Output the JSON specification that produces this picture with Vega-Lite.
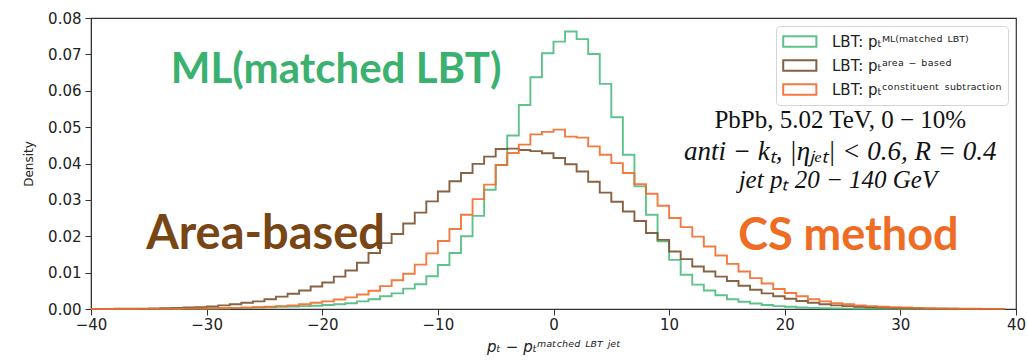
{
  "$schema": "https://vega.github.io/schema/vega-lite/v6.json",
  "width": 925,
  "height": 291,
  "autosize": {"type": "none"},
  "padding": {"left": 91, "top": 18, "right": 12, "bottom": 53},
  "background": "white",
  "config": {
    "view": {"stroke": "#333333", "strokeWidth": 1.2},
    "axis": {
      "grid": false,
      "domainColor": "#333333",
      "tickColor": "#333333",
      "tickSize": 6,
      "labelFont": "DejaVu Sans",
      "labelFontSize": 15,
      "labelColor": "#222222",
      "labelOverlap": false,
      "labelFlush": false,
      "titleColor": "#222222",
      "titleFontWeight": "normal"
    }
  },
  "data": {
    "values": [
      {"series": "ML", "x": -40, "density": 0},
      {"series": "ML", "x": -39, "density": 0},
      {"series": "ML", "x": -38, "density": 0.00001},
      {"series": "ML", "x": -37, "density": 0.00002},
      {"series": "ML", "x": -36, "density": 0.00003},
      {"series": "ML", "x": -35, "density": 0.00004},
      {"series": "ML", "x": -34, "density": 0.00005},
      {"series": "ML", "x": -33, "density": 0.00007},
      {"series": "ML", "x": -32, "density": 0.0001},
      {"series": "ML", "x": -31, "density": 0.00012},
      {"series": "ML", "x": -30, "density": 0.00015},
      {"series": "ML", "x": -29, "density": 0.0002},
      {"series": "ML", "x": -28, "density": 0.00025},
      {"series": "ML", "x": -27, "density": 0.0003},
      {"series": "ML", "x": -26, "density": 0.0004},
      {"series": "ML", "x": -25, "density": 0.0005},
      {"series": "ML", "x": -24, "density": 0.0006},
      {"series": "ML", "x": -23, "density": 0.0007},
      {"series": "ML", "x": -22, "density": 0.0008},
      {"series": "ML", "x": -21, "density": 0.0009},
      {"series": "ML", "x": -20, "density": 0.0011},
      {"series": "ML", "x": -19, "density": 0.0013},
      {"series": "ML", "x": -18, "density": 0.0016},
      {"series": "ML", "x": -17, "density": 0.0021},
      {"series": "ML", "x": -16, "density": 0.0027},
      {"series": "ML", "x": -15, "density": 0.0035},
      {"series": "ML", "x": -14, "density": 0.0043},
      {"series": "ML", "x": -13, "density": 0.0056},
      {"series": "ML", "x": -12, "density": 0.0068},
      {"series": "ML", "x": -11, "density": 0.009},
      {"series": "ML", "x": -10, "density": 0.0121},
      {"series": "ML", "x": -9, "density": 0.0154},
      {"series": "ML", "x": -8, "density": 0.02},
      {"series": "ML", "x": -7, "density": 0.0256},
      {"series": "ML", "x": -6, "density": 0.0328},
      {"series": "ML", "x": -5, "density": 0.0396},
      {"series": "ML", "x": -4, "density": 0.0477},
      {"series": "ML", "x": -3, "density": 0.0561},
      {"series": "ML", "x": -2, "density": 0.0637},
      {"series": "ML", "x": -1, "density": 0.0703},
      {"series": "ML", "x": 0, "density": 0.0735},
      {"series": "ML", "x": 1, "density": 0.0763},
      {"series": "ML", "x": 2, "density": 0.0742},
      {"series": "ML", "x": 3, "density": 0.0701},
      {"series": "ML", "x": 4, "density": 0.0619},
      {"series": "ML", "x": 5, "density": 0.0527},
      {"series": "ML", "x": 6, "density": 0.0424},
      {"series": "ML", "x": 7, "density": 0.0337},
      {"series": "ML", "x": 8, "density": 0.0259},
      {"series": "ML", "x": 9, "density": 0.0186},
      {"series": "ML", "x": 10, "density": 0.0135},
      {"series": "ML", "x": 11, "density": 0.0094},
      {"series": "ML", "x": 12, "density": 0.0067},
      {"series": "ML", "x": 13, "density": 0.0051},
      {"series": "ML", "x": 14, "density": 0.0038},
      {"series": "ML", "x": 15, "density": 0.0027},
      {"series": "ML", "x": 16, "density": 0.002},
      {"series": "ML", "x": 17, "density": 0.0015},
      {"series": "ML", "x": 18, "density": 0.0011},
      {"series": "ML", "x": 19, "density": 0.0008},
      {"series": "ML", "x": 20, "density": 0.0006},
      {"series": "ML", "x": 21, "density": 0.0004},
      {"series": "ML", "x": 22, "density": 0.0003},
      {"series": "ML", "x": 23, "density": 0.0002},
      {"series": "ML", "x": 24, "density": 0.00015},
      {"series": "ML", "x": 25, "density": 0.0001},
      {"series": "ML", "x": 26, "density": 0.00008},
      {"series": "ML", "x": 27, "density": 0.00006},
      {"series": "ML", "x": 28, "density": 0.00004},
      {"series": "ML", "x": 29, "density": 0.00003},
      {"series": "ML", "x": 30, "density": 0.00002},
      {"series": "ML", "x": 31, "density": 0.00001},
      {"series": "ML", "x": 32, "density": 0},
      {"series": "ML", "x": 33, "density": 0},
      {"series": "ML", "x": 34, "density": 0},
      {"series": "ML", "x": 35, "density": 0},
      {"series": "ML", "x": 36, "density": 0},
      {"series": "ML", "x": 37, "density": 0},
      {"series": "ML", "x": 38, "density": 0},
      {"series": "ML", "x": 39, "density": 0},

      {"series": "area", "x": -40, "density": 0.00002},
      {"series": "area", "x": -39, "density": 0.00003},
      {"series": "area", "x": -38, "density": 0.00005},
      {"series": "area", "x": -37, "density": 0.00007},
      {"series": "area", "x": -36, "density": 0.0001},
      {"series": "area", "x": -35, "density": 0.00015},
      {"series": "area", "x": -34, "density": 0.0002},
      {"series": "area", "x": -33, "density": 0.0003},
      {"series": "area", "x": -32, "density": 0.0004},
      {"series": "area", "x": -31, "density": 0.0005},
      {"series": "area", "x": -30, "density": 0.0007},
      {"series": "area", "x": -29, "density": 0.001},
      {"series": "area", "x": -28, "density": 0.0013},
      {"series": "area", "x": -27, "density": 0.0017},
      {"series": "area", "x": -26, "density": 0.0021},
      {"series": "area", "x": -25, "density": 0.0027},
      {"series": "area", "x": -24, "density": 0.0034},
      {"series": "area", "x": -23, "density": 0.0042},
      {"series": "area", "x": -22, "density": 0.0051},
      {"series": "area", "x": -21, "density": 0.0062},
      {"series": "area", "x": -20, "density": 0.0073},
      {"series": "area", "x": -19, "density": 0.0089},
      {"series": "area", "x": -18, "density": 0.0106},
      {"series": "area", "x": -17, "density": 0.0127},
      {"series": "area", "x": -16, "density": 0.0154},
      {"series": "area", "x": -15, "density": 0.0181},
      {"series": "area", "x": -14, "density": 0.0206},
      {"series": "area", "x": -13, "density": 0.0235},
      {"series": "area", "x": -12, "density": 0.0265},
      {"series": "area", "x": -11, "density": 0.0296},
      {"series": "area", "x": -10, "density": 0.0323},
      {"series": "area", "x": -9, "density": 0.0351},
      {"series": "area", "x": -8, "density": 0.0374},
      {"series": "area", "x": -7, "density": 0.0399},
      {"series": "area", "x": -6, "density": 0.0419},
      {"series": "area", "x": -5, "density": 0.044},
      {"series": "area", "x": -4, "density": 0.0441},
      {"series": "area", "x": -3, "density": 0.0437},
      {"series": "area", "x": -2, "density": 0.0434},
      {"series": "area", "x": -1, "density": 0.0428},
      {"series": "area", "x": 0, "density": 0.0415},
      {"series": "area", "x": 1, "density": 0.0398},
      {"series": "area", "x": 2, "density": 0.0378},
      {"series": "area", "x": 3, "density": 0.035},
      {"series": "area", "x": 4, "density": 0.032},
      {"series": "area", "x": 5, "density": 0.0295},
      {"series": "area", "x": 6, "density": 0.0268},
      {"series": "area", "x": 7, "density": 0.0242},
      {"series": "area", "x": 8, "density": 0.0209},
      {"series": "area", "x": 9, "density": 0.019},
      {"series": "area", "x": 10, "density": 0.0158},
      {"series": "area", "x": 11, "density": 0.0137},
      {"series": "area", "x": 12, "density": 0.0117},
      {"series": "area", "x": 13, "density": 0.0103},
      {"series": "area", "x": 14, "density": 0.0089},
      {"series": "area", "x": 15, "density": 0.0077},
      {"series": "area", "x": 16, "density": 0.0064},
      {"series": "area", "x": 17, "density": 0.0053},
      {"series": "area", "x": 18, "density": 0.0043},
      {"series": "area", "x": 19, "density": 0.0035},
      {"series": "area", "x": 20, "density": 0.0028},
      {"series": "area", "x": 21, "density": 0.0022},
      {"series": "area", "x": 22, "density": 0.0017},
      {"series": "area", "x": 23, "density": 0.0013},
      {"series": "area", "x": 24, "density": 0.001},
      {"series": "area", "x": 25, "density": 0.0008},
      {"series": "area", "x": 26, "density": 0.0006},
      {"series": "area", "x": 27, "density": 0.0005},
      {"series": "area", "x": 28, "density": 0.0004},
      {"series": "area", "x": 29, "density": 0.0003},
      {"series": "area", "x": 30, "density": 0.0002},
      {"series": "area", "x": 31, "density": 0.00015},
      {"series": "area", "x": 32, "density": 0.0001},
      {"series": "area", "x": 33, "density": 0.00008},
      {"series": "area", "x": 34, "density": 0.00006},
      {"series": "area", "x": 35, "density": 0.00004},
      {"series": "area", "x": 36, "density": 0.00003},
      {"series": "area", "x": 37, "density": 0.00002},
      {"series": "area", "x": 38, "density": 0.00001},
      {"series": "area", "x": 39, "density": 0.00001},

      {"series": "CS", "x": -40, "density": 0},
      {"series": "CS", "x": -39, "density": 0.00001},
      {"series": "CS", "x": -38, "density": 0.00001},
      {"series": "CS", "x": -37, "density": 0.00002},
      {"series": "CS", "x": -36, "density": 0.00003},
      {"series": "CS", "x": -35, "density": 0.00004},
      {"series": "CS", "x": -34, "density": 0.00005},
      {"series": "CS", "x": -33, "density": 0.00007},
      {"series": "CS", "x": -32, "density": 0.0001},
      {"series": "CS", "x": -31, "density": 0.00013},
      {"series": "CS", "x": -30, "density": 0.00017},
      {"series": "CS", "x": -29, "density": 0.0002},
      {"series": "CS", "x": -28, "density": 0.0003},
      {"series": "CS", "x": -27, "density": 0.0004},
      {"series": "CS", "x": -26, "density": 0.0005},
      {"series": "CS", "x": -25, "density": 0.0006},
      {"series": "CS", "x": -24, "density": 0.0008},
      {"series": "CS", "x": -23, "density": 0.001},
      {"series": "CS", "x": -22, "density": 0.0013},
      {"series": "CS", "x": -21, "density": 0.0017},
      {"series": "CS", "x": -20, "density": 0.0021},
      {"series": "CS", "x": -19, "density": 0.0026},
      {"series": "CS", "x": -18, "density": 0.0032},
      {"series": "CS", "x": -17, "density": 0.004},
      {"series": "CS", "x": -16, "density": 0.005},
      {"series": "CS", "x": -15, "density": 0.0063},
      {"series": "CS", "x": -14, "density": 0.0079},
      {"series": "CS", "x": -13, "density": 0.0097},
      {"series": "CS", "x": -12, "density": 0.0122},
      {"series": "CS", "x": -11, "density": 0.0153},
      {"series": "CS", "x": -10, "density": 0.0187},
      {"series": "CS", "x": -9, "density": 0.022},
      {"series": "CS", "x": -8, "density": 0.0259},
      {"series": "CS", "x": -7, "density": 0.0302},
      {"series": "CS", "x": -6, "density": 0.0342},
      {"series": "CS", "x": -5, "density": 0.0396},
      {"series": "CS", "x": -4, "density": 0.0429},
      {"series": "CS", "x": -3, "density": 0.0452},
      {"series": "CS", "x": -2, "density": 0.048},
      {"series": "CS", "x": -1, "density": 0.0487},
      {"series": "CS", "x": 0, "density": 0.0493},
      {"series": "CS", "x": 1, "density": 0.0474},
      {"series": "CS", "x": 2, "density": 0.0471},
      {"series": "CS", "x": 3, "density": 0.0447},
      {"series": "CS", "x": 4, "density": 0.0424},
      {"series": "CS", "x": 5, "density": 0.0401},
      {"series": "CS", "x": 6, "density": 0.0374},
      {"series": "CS", "x": 7, "density": 0.0343},
      {"series": "CS", "x": 8, "density": 0.0317},
      {"series": "CS", "x": 9, "density": 0.0284},
      {"series": "CS", "x": 10, "density": 0.025},
      {"series": "CS", "x": 11, "density": 0.0225},
      {"series": "CS", "x": 12, "density": 0.0199},
      {"series": "CS", "x": 13, "density": 0.0172},
      {"series": "CS", "x": 14, "density": 0.0147},
      {"series": "CS", "x": 15, "density": 0.0124},
      {"series": "CS", "x": 16, "density": 0.0103},
      {"series": "CS", "x": 17, "density": 0.0085},
      {"series": "CS", "x": 18, "density": 0.007},
      {"series": "CS", "x": 19, "density": 0.0055},
      {"series": "CS", "x": 20, "density": 0.0044},
      {"series": "CS", "x": 21, "density": 0.0035},
      {"series": "CS", "x": 22, "density": 0.0027},
      {"series": "CS", "x": 23, "density": 0.0021},
      {"series": "CS", "x": 24, "density": 0.0016},
      {"series": "CS", "x": 25, "density": 0.0013},
      {"series": "CS", "x": 26, "density": 0.001},
      {"series": "CS", "x": 27, "density": 0.0008},
      {"series": "CS", "x": 28, "density": 0.0006},
      {"series": "CS", "x": 29, "density": 0.0005},
      {"series": "CS", "x": 30, "density": 0.0004},
      {"series": "CS", "x": 31, "density": 0.0003},
      {"series": "CS", "x": 32, "density": 0.0002},
      {"series": "CS", "x": 33, "density": 0.00015},
      {"series": "CS", "x": 34, "density": 0.0001},
      {"series": "CS", "x": 35, "density": 0.00008},
      {"series": "CS", "x": 36, "density": 0.00006},
      {"series": "CS", "x": 37, "density": 0.00004},
      {"series": "CS", "x": 38, "density": 0.00003},
      {"series": "CS", "x": 39, "density": 0.00003}
    ]
  },
  "layer": [
    {
      "mark": {"type": "line", "interpolate": "step-after", "strokeWidth": 1.9, "opacity": 0.9},
      "encoding": {
        "x": {
          "field": "x",
          "type": "quantitative",
          "scale": {"domain": [-40, 40], "nice": false, "zero": false},
          "axis": {
            "values": [-40, -30, -20, -10, 0, 10, 20, 30, 40],
            "tickCount": 20,
            "format": "d",
            "labelPadding": 2,
            "labelFlush": false,
            "labelOverlap": false,
            "title": "pₜ − pₜᵐᵃᵗᶜʰᵉᵈ ᴸᴮᵀ ʲᵉᵗ",
            "titleFont": "DejaVu Sans",
            "titleFontStyle": "italic",
            "titleFontSize": 15,
            "titlePadding": 7
          }
        },
        "y": {
          "field": "density",
          "type": "quantitative",
          "scale": {"domain": [0, 0.08], "nice": false},
          "axis": {
            "values": [0, 0.01, 0.02, 0.03, 0.04, 0.05, 0.06, 0.07, 0.08],
            "tickCount": 20,
            "format": ".2f",
            "labelPadding": 4,
            "labelOverlap": false,
            "labelFlush": false,
            "title": "Density",
            "titleFont": "DejaVu Sans",
            "titleFontSize": 12,
            "titlePadding": 12
          }
        },
        "color": {
          "field": "series",
          "type": "nominal",
          "scale": {"domain": ["ML", "area", "CS"], "range": ["#4dbd7d", "#7a5230", "#f26d2d"]},
          "legend": {
            "orient": "top-right",
            "offset": 8,
            "title": null,
            "labelExpr": "datum.value == 'ML' ? 'LBT: pₜᴹᴸ⁽ᵐᵃᵗᶜʰᵉᵈ ᴸᴮᵀ⁾' : datum.value == 'area' ? 'LBT: pₜᵃʳᵉᵃ ⁻ ᵇᵃˢᵉᵈ' : 'LBT: pₜᶜᵒⁿˢᵗⁱᵗᵘᵉⁿᵗ ˢᵘᵇᵗʳᵃᶜᵗⁱᵒⁿ'",
            "labelLimit": 320,
            "symbolType": "M-1,-0.64H3V0.64H-1Z",
            "symbolSize": 275,
            "symbolStrokeWidth": 2,
            "symbolFillColor": "transparent",
            "labelFont": "DejaVu Sans",
            "labelFontSize": 15,
            "labelColor": "#222222",
            "labelOffset": 31,
            "rowPadding": 5,
            "padding": 6,
            "strokeColor": "#d5d5d5",
            "fillColor": "white",
            "cornerRadius": 4
          }
        }
      }
    },
    {
      "data": {"values": [{"t": "ML(matched LBT)"}]},
      "mark": {"type": "text", "align": "center", "baseline": "alphabetic", "font": "Lato", "fontWeight": "bold", "fontSize": 42, "color": "#3bb16f"},
      "encoding": {"x": {"datum": -18.8}, "y": {"datum": 0.0622}, "text": {"field": "t"}}
    },
    {
      "data": {"values": [{"t": "Area-based"}]},
      "mark": {"type": "text", "align": "center", "baseline": "alphabetic", "font": "Lato", "fontWeight": "bold", "fontSize": 47, "color": "#784615"},
      "encoding": {"x": {"datum": -24.9}, "y": {"datum": 0.0165}, "text": {"field": "t"}}
    },
    {
      "data": {"values": [{"t": "CS method"}]},
      "mark": {"type": "text", "align": "center", "baseline": "alphabetic", "font": "Lato", "fontWeight": "bold", "fontSize": 45, "color": "#ee6c24"},
      "encoding": {"x": {"datum": 25.5}, "y": {"datum": 0.0163}, "text": {"field": "t"}}
    },
    {
      "data": {"values": [{"t": "PbPb, 5.02 TeV, 0 − 10%"}]},
      "mark": {"type": "text", "align": "center", "baseline": "alphabetic", "font": "Liberation Serif", "fontSize": 25, "color": "#111111"},
      "encoding": {"x": {"datum": 24.8}, "y": {"datum": 0.0498}, "text": {"field": "t"}}
    },
    {
      "data": {"values": [{"t": "anti − kₜ, |ηⱼₑₜ| < 0.6, R = 0.4"}]},
      "mark": {"type": "text", "align": "center", "baseline": "alphabetic", "font": "Liberation Serif", "fontStyle": "italic", "fontSize": 27, "color": "#111111"},
      "encoding": {"x": {"datum": 24.8}, "y": {"datum": 0.041}, "text": {"field": "t"}}
    },
    {
      "data": {"values": [{"t": "jet pₜ 20 − 140 GeV"}]},
      "mark": {"type": "text", "align": "center", "baseline": "alphabetic", "font": "Liberation Serif", "fontStyle": "italic", "fontSize": 25, "color": "#111111"},
      "encoding": {"x": {"datum": 24.6}, "y": {"datum": 0.0333}, "text": {"field": "t"}}
    }
  ]
}
